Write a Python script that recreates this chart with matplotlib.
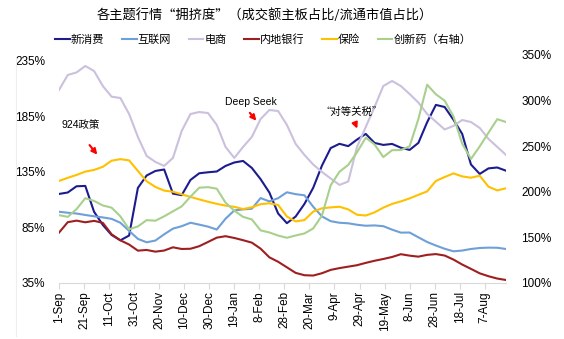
import numpy as np
import pandas as pd
import matplotlib
matplotlib.use('Agg')
import matplotlib.pyplot as plt

plt.rcParams['font.family'] = ['Liberation Sans', 'Noto Sans CJK SC', 'DejaVu Sans']
CJK = ['Noto Sans CJK SC', 'DejaVu Sans']

# weekly samples, 1-Sep-2024 .. 24-Aug-2025
dates = pd.date_range('2024-09-01', periods=52, freq='7D')

xin_xiaofei = [115.1, 116.4, 122.0, 122.3, 99.1, 87.2, 78.2, 73.4, 77.7, 120.5,
               131.7, 135.8, 137.1, 115.4, 114.0, 127.7, 133.7, 134.6, 135.3, 140.3,
               143.4, 144.8, 138.5, 128.4, 116.4, 97.5, 88.8, 94.8, 106.1, 120.6,
               140.6, 156.4, 160.2, 158.1, 164.0, 169.1, 161.0, 159.2, 160.1, 156.7,
               154.7, 161.0, 179.6, 195.2, 193.3, 181.9, 169.1, 141.6, 133.1, 138.1,
               138.9, 136.0]
hulianwang = [99.1, 98.2, 97.5, 96.2, 95.0, 94.0, 92.7, 89.2, 81.9, 74.7,
              71.6, 73.2, 78.8, 83.9, 86.1, 89.2, 87.5, 85.7, 83.1, 92.8,
              100.3, 101.2, 101.8, 111.4, 108.4, 111.3, 116.6, 114.9, 113.9, 103.6,
              94.9, 90.6, 89.2, 88.7, 87.4, 86.5, 86.8, 86.1, 83.0, 80.3,
              80.4, 76.1, 71.9, 68.7, 65.8, 63.5, 64.2, 65.6, 66.5, 66.8,
              66.7, 65.6]
dianshang = [208.6, 222.1, 224.4, 230.2, 225.7, 212.2, 202.6, 201.4, 187.0, 166.4,
             149.3, 143.9, 140.3, 147.5, 171.8, 187.0, 188.8, 187.9, 177.2, 157.4,
             147.5, 157.4, 166.4, 182.5, 190.6, 189.7, 177.2, 160.1, 150.2, 141.6,
             134.9, 129.0, 123.2, 126.3, 157.4, 175.4, 193.3, 212.2, 216.7, 212.2,
             205.0, 197.3, 187.0, 180.1, 173.1, 176.3, 181.6, 179.8, 174.5, 164.6,
             157.4, 150.2]
neidi_yinhang = [80.3, 89.7, 91.1, 89.6, 90.9, 89.1, 78.8, 73.4, 69.6, 64.1,
                 64.7, 63.2, 64.2, 67.1, 65.6, 65.8, 68.1, 71.9, 75.8, 77.1,
                 75.5, 73.5, 71.3, 65.9, 58.1, 54.1, 49.1, 44.1, 42.0, 41.7,
                 43.8, 46.8, 48.4, 49.7, 51.0, 53.1, 55.0, 56.6, 58.4, 60.9,
                 59.6, 58.7, 60.3, 61.0, 59.7, 56.1, 51.6, 47.7, 43.7, 41.1,
                 39.0, 37.7]
baoxian = [126.8, 129.6, 132.2, 135.2, 136.7, 139.5, 145.0, 146.4, 145.3, 135.8,
           126.5, 121.4, 118.1, 117.1, 114.8, 112.4, 110.2, 108.1, 106.2, 104.6,
           103.5, 101.5, 103.1, 105.9, 106.7, 105.2, 94.8, 90.4, 91.6, 99.2,
           102.2, 103.0, 103.6, 101.2, 96.4, 95.7, 98.5, 102.8, 106.1, 108.4,
           111.1, 114.3, 117.4, 126.8, 130.3, 133.6, 130.9, 129.7, 131.5, 121.6,
           118.3, 120.2]
chuangxinyao = [174.4, 172.5, 181.0, 193.0, 190.0, 185.0, 182.6, 173.1, 158.9, 162.0,
                168.9, 168.3, 173.1, 178.6, 184.0, 194.7, 204.5, 205.1, 203.4, 188.1,
                179.3, 172.5, 169.7, 157.7, 155.4, 152.0, 149.6, 152.1, 154.3, 159.8,
                174.0, 207.2, 222.0, 229.5, 243.3, 259.3, 251.9, 238.1, 245.6, 245.8,
                249.8, 279.8, 317.4, 306.9, 299.9, 282.7, 252.8, 236.0, 249.8, 264.8,
                279.6, 276.5]

left_ticks = [35, 85, 135, 185, 235]
right_ticks = [100, 150, 200, 250, 300, 350]
x_ticks = pd.date_range('2024-09-01', '2025-08-24', freq='20D')

fig = plt.figure(figsize=(5.64, 3.39), dpi=100)
ax = fig.add_axes([0.1046, 0.1652, 0.7926, 0.6726])
ax2 = ax.twinx()

ax.plot(dates, xin_xiaofei, color='#1c1c8f', lw=1.5, label='新消费')
ax.plot(dates, hulianwang, color='#6f9fd8', lw=1.5, label='互联网')
ax.plot(dates, dianshang, color='#cbc0dd', lw=1.5, label='电商')
ax.plot(dates, neidi_yinhang, color='#9e1f1f', lw=1.5, label='内地银行')
ax.plot(dates, baoxian, color='#ffc000', lw=1.5, label='保险')
ax2.plot(dates, chuangxinyao, color='#a8d08d', lw=1.5, label='创新药（右轴）')

ax.set_xlim(pd.Timestamp('2024-09-01'), pd.Timestamp('2025-08-24'))
ax.set_ylim(35, 240.1)
ax2.set_ylim(100, 349.5)
ax.set_yticks(left_ticks)
ax.set_yticklabels([f'{v}%' for v in left_ticks])
ax2.set_yticks(right_ticks)
ax2.set_yticklabels([f'{v}%' for v in right_ticks])
ax.set_xticks(x_ticks)
ax.set_xticklabels([f'{d.day}-{d.strftime("%b")}' for d in x_ticks], rotation=90)

for a in (ax, ax2):
    for s in ['top', 'right', 'left']:
        a.spines[s].set_visible(False)
    a.spines['bottom'].set_color('#d9d9d9')
ax2.spines['bottom'].set_visible(False)
ax.tick_params(axis='x', length=4, color='#d9d9d9', labelsize=8.5, pad=2)
ax.tick_params(axis='y', length=0, labelsize=8.5, pad=10)
ax2.tick_params(axis='y', length=0, labelsize=8.5, pad=11)

# annotations
arrow = dict(arrowstyle='-|>', color='red', lw=1.5, mutation_scale=8)
ax.text(pd.Timestamp('2024-09-18'), 177, '924政策', fontsize=7.5, ha='center', va='center')
ax.annotate('', xy=(pd.Timestamp('2024-10-03'), 148.5), xytext=(pd.Timestamp('2024-09-24'), 161),
            arrowprops=arrow)
ax.text(pd.Timestamp('2025-02-01'), 198, 'Deep Seek', fontsize=7.5, ha='center', va='center')
ax.annotate('', xy=(pd.Timestamp('2025-02-07'), 179), xytext=(pd.Timestamp('2025-01-30'), 190),
            arrowprops=arrow)
ax.text(pd.Timestamp('2025-04-23'), 189, '“对等关税”', fontsize=7.5, ha='center', va='center',
        family=CJK)
ax.annotate('', xy=(pd.Timestamp('2025-04-28'), 171.5), xytext=(pd.Timestamp('2025-04-25'), 180),
            arrowprops=arrow)

fig.text(0.47, 0.956, '各主题行情“拥挤度”（成交额主板占比/流通市值占比）', fontsize=9.5,
         ha='center', va='center', family=CJK)
h1, l1 = ax.get_legend_handles_labels()
h2, l2 = ax2.get_legend_handles_labels()
fig.legend(h1 + h2, l1 + l2, loc='center', bbox_to_anchor=(0.467, 0.882), ncol=6,
           frameon=False, prop={'family': CJK, 'size': 8}, handlelength=1.3,
           handletextpad=0.1, columnspacing=1.6)

fig.add_artist(plt.Line2D([16 / 564, 16 / 564], [0.01, 0.83], color='#eeeeee', lw=0.8))

fig.savefig('out.png', dpi=100)
